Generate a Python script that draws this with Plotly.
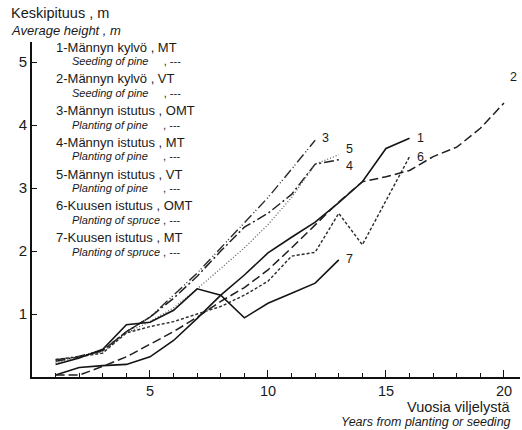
import plotly.graph_objects as go

# ---- data ----
years_1 = list(range(1, 17))
height_1 = [0.03, 0.15, 0.18, 0.2, 0.32, 0.58, 0.93, 1.3, 1.62, 1.97, 2.22, 2.46, 2.77, 3.1, 3.63, 3.79]
years_2 = list(range(1, 21))
height_2 = [0.03, 0.03, 0.17, 0.32, 0.52, 0.72, 0.95, 1.2, 1.42, 1.7, 2.05, 2.42, 2.78, 3.1, 3.18, 3.28, 3.5, 3.65, 3.95, 4.35]
years_3 = list(range(1, 13))
height_3 = [0.27, 0.33, 0.42, 0.72, 0.95, 1.3, 1.65, 2.05, 2.45, 2.85, 3.3, 3.76]
years_4 = list(range(1, 14))
height_4 = [0.25, 0.32, 0.42, 0.72, 0.95, 1.25, 1.6, 2.0, 2.38, 2.6, 2.9, 3.38, 3.45]
years_5 = list(range(1, 14))
height_5 = [0.22, 0.32, 0.4, 0.7, 0.88, 1.1, 1.4, 1.72, 2.05, 2.42, 2.85, 3.38, 3.53]
years_6 = list(range(1, 17))
height_6 = [0.28, 0.32, 0.38, 0.7, 0.8, 0.88, 1.0, 1.12, 1.3, 1.52, 1.92, 1.98, 2.6, 2.1, 2.8, 3.5]
years_7 = list(range(1, 14))
height_7 = [0.2, 0.3, 0.44, 0.83, 0.87, 1.06, 1.4, 1.3, 0.94, 1.17, 1.33, 1.49, 1.86]

series_ids = ["1", "2", "3", "4", "5", "6", "7"]
legend_fi = ["Männyn kylvö , MT", "Männyn kylvö , VT", "Männyn istutus , OMT",
             "Männyn istutus , MT", "Männyn istutus , VT", "Kuusen istutus , OMT",
             "Kuusen istutus , MT"]
legend_en = ["Seeding of pine", "Seeding of pine", "Planting of pine", "Planting of pine",
             "Planting of pine", "Planting of spruce", "Planting of spruce"]
x_ticks = [5, 10, 15, 20]
y_ticks = [1, 2, 3, 4, 5]

# ---- styles ----
all_x = [years_1, years_2, years_3, years_4, years_5, years_6, years_7]
all_y = [height_1, height_2, height_3, height_4, height_5, height_6, height_7]
dashes = ["solid", "9px,4px", "10px,3px,1px,2px,1px,3px", "10px,3px,2px,3px",
          "1px,2px", "3px,2px", "solid"]
colors = ["#141414", "#1e1e1e", "#2a2a2a", "#222", "#555", "#2a2a2a", "#141414"]
widths = [1.6, 1.5, 1.4, 1.5, 1.2, 1.4, 1.6]
label_shift = [(7, 0), (6, 26), (7, 2), (7, -6), (7, 6), (7, 0), (7, 1)]

FONT = "Liberation Sans, Arial, sans-serif"
TXT = "#1a1a1a"

fig = go.Figure()
for i in range(7):
    fig.add_trace(go.Scatter(x=all_x[i], y=all_y[i], mode="lines",
                             line=dict(color=colors[i], width=widths[i], dash=dashes[i]),
                             showlegend=False, hoverinfo="skip"))

L, T, W, H = 32, 42, 488, 335


def px(x):
    return (x - L) / W


def py(y):
    return (T + H - y) / H


ann = []
# line end labels
for i in range(7):
    dx, dy = label_shift[i]
    ann.append(dict(x=all_x[i][-1], y=all_y[i][-1], xref="x", yref="y", text=series_ids[i],
                    showarrow=False, xanchor="left", yanchor="middle", xshift=dx - 2, yshift=dy,
                    font=dict(family=FONT, size=12.5, color=TXT)))

# legend text
for i in range(7):
    ym = 47 + i * 31.8
    ann.append(dict(x=px(54), y=py(ym), xref="paper", yref="paper",
                    text=f"{series_ids[i]}-{legend_fi[i]}", showarrow=False,
                    xanchor="left", yanchor="middle",
                    font=dict(family=FONT, size=13, color=TXT)))
    ann.append(dict(x=px(70), y=py(ym + 14), xref="paper", yref="paper",
                    text=f"<i>{legend_en[i]}</i>" + (" " if i >= 5 else "     ") + ", ---",
                    showarrow=False, xanchor="left", yanchor="middle",
                    font=dict(family=FONT, size=11, color=TXT)))

# axis titles
ann.append(dict(x=px(9), y=py(13), xref="paper", yref="paper", text="Keskipituus , m",
                showarrow=False, xanchor="left", yanchor="middle",
                font=dict(family=FONT, size=14.5, color=TXT)))
ann.append(dict(x=px(9), y=py(30), xref="paper", yref="paper", text="<i>Average height , m</i>",
                showarrow=False, xanchor="left", yanchor="middle",
                font=dict(family=FONT, size=13, color=TXT)))
ann.append(dict(x=px(513), y=py(407), xref="paper", yref="paper", text="Vuosia viljelystä",
                showarrow=False, xanchor="right", yanchor="middle",
                font=dict(family=FONT, size=14.5, color=TXT)))
ann.append(dict(x=px(513), y=py(422), xref="paper", yref="paper",
                text="<i>Years from planting or seeding</i>",
                showarrow=False, xanchor="right", yanchor="middle",
                font=dict(family=FONT, size=12.5, color=TXT)))

fig.update_layout(
    width=522, height=430,
    margin=dict(l=L, r=522 - L - W, t=T, b=430 - T - H, pad=0),
    paper_bgcolor="white", plot_bgcolor="white",
    annotations=ann,
    xaxis=dict(range=[0, 20.68], tickvals=x_ticks, ticks="inside", ticklen=7, tickwidth=1.2,
               tickcolor="#111", showline=True, linecolor="#111", linewidth=2,
               showgrid=False, zeroline=False,
               minor=dict(dtick=1, tick0=0, ticks="inside", ticklen=4, tickwidth=1, tickcolor="#111",
                          showgrid=False),
               tickfont=dict(family=FONT, size=14.5, color=TXT)),
    yaxis=dict(range=[0, 5.32], tickvals=y_ticks, ticks="inside", ticklen=5, tickwidth=1.2,
               tickcolor="#111", showline=True, linecolor="#111", linewidth=2,
               showgrid=False, zeroline=False,
               tickfont=dict(family=FONT, size=15, color=TXT)),
)

fig.write_html("out.html")
